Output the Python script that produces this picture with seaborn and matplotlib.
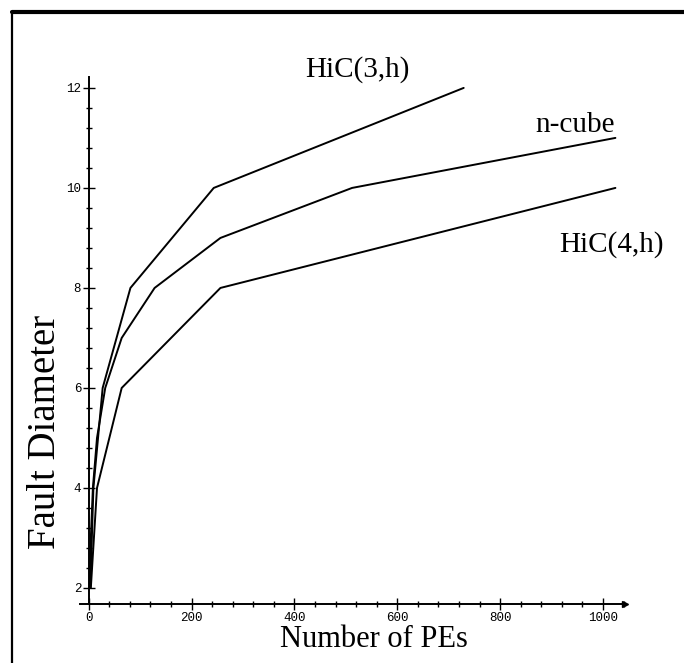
import pandas as pd
import matplotlib.pyplot as plt
import seaborn as sns
from matplotlib.lines import Line2D
from matplotlib.ticker import MultipleLocator

# number of PEs and fault diameter for each network
hic3_pes = [3, 9, 27, 81, 243, 729]
hic3_diam = [2, 4, 6, 8, 10, 12]
ncube_pes = [2, 4, 8, 16, 32, 64, 128, 256, 512, 1024]
ncube_diam = [2, 3, 4, 5, 6, 7, 8, 9, 10, 11]
hic4_pes = [4, 16, 64, 256, 1024]
hic4_diam = [2, 4, 6, 8, 10]

x_ticks = [0, 200, 400, 600, 800, 1000]
y_ticks = [2, 4, 6, 8, 10, 12]

# long format so seaborn can draw the three curves in one call
frames = []
for name, pes, diam in [("HiC(3,h)", hic3_pes, hic3_diam),
                        ("n-cube", ncube_pes, ncube_diam),
                        ("HiC(4,h)", hic4_pes, hic4_diam)]:
    frames.append(pd.DataFrame({"pes": pes, "diam": diam, "net": name}))
data = pd.concat(frames, ignore_index=True)

sns.set_style("white")
plt.rcParams["font.family"] = ["Liberation Serif", "DejaVu Serif"]
plt.rcParams["text.color"] = "black"

fig = plt.figure(figsize=(6.84, 6.63), dpi=100)
ax = fig.add_axes([0.117, 0.089, 0.797, 0.795])

sns.lineplot(data=data, x="pes", y="diam", hue="net",
             palette=["black", "black", "black"], linewidth=1.4,
             legend=False, ax=ax, sort=False)

ax.set_xlim(-17, 1043)
ax.set_ylim(1.68, 12.22)
ax.set_xticks(x_ticks)
ax.set_yticks(y_ticks)
ax.xaxis.set_minor_locator(MultipleLocator(40))
ax.yaxis.set_minor_locator(MultipleLocator(0.4))

# axes drawn as plain lines crossing at x = 0
ax.spines["top"].set_visible(False)
ax.spines["right"].set_visible(False)
ax.spines["left"].set_position(("data", 0))
for s in ["left", "bottom"]:
    ax.spines[s].set_linewidth(1.4)
    ax.spines[s].set_color("black")

ax.tick_params(which="both", bottom=True, left=True)
ax.tick_params(which="major", direction="inout", length=9, width=1,
               colors="black", labelsize=9, pad=1)
ax.tick_params(which="minor", direction="inout", length=5, width=1,
               colors="black")
for lab in ax.get_xticklabels() + ax.get_yticklabels():
    lab.set_family(["Liberation Mono", "DejaVu Sans Mono"])

# small arrow head at the end of the x axis
ax.plot(1, 0, marker=">", color="black", markersize=5,
        transform=ax.transAxes, clip_on=False)

ax.set_xlabel("")
ax.set_ylabel("")
fig.text(0.547, 0.035, "Number of PEs", ha="center", va="center", fontsize=22)
fig.text(0.066, 0.348, "Fault Diameter", ha="center", va="center",
         rotation=90, fontsize=28)

ax.text(523, 12.36, "HiC(3,h)", ha="center", va="center", fontsize=21,
        clip_on=False)
ax.text(945, 11.26, "n-cube", ha="center", va="center", fontsize=21)
ax.text(1017, 8.86, "HiC(4,h)", ha="center", va="center", fontsize=21,
        clip_on=False)

# frame around the figure (left and top edges visible)
fig.add_artist(Line2D([12 / 684, 12 / 684], [0, 1 - 12 / 663],
                      transform=fig.transFigure, color="black", linewidth=1.6))
fig.add_artist(Line2D([12 / 684, 1], [1 - 12 / 663, 1 - 12 / 663],
                      transform=fig.transFigure, color="black", linewidth=3))

fig.savefig("out.png", dpi=100)
